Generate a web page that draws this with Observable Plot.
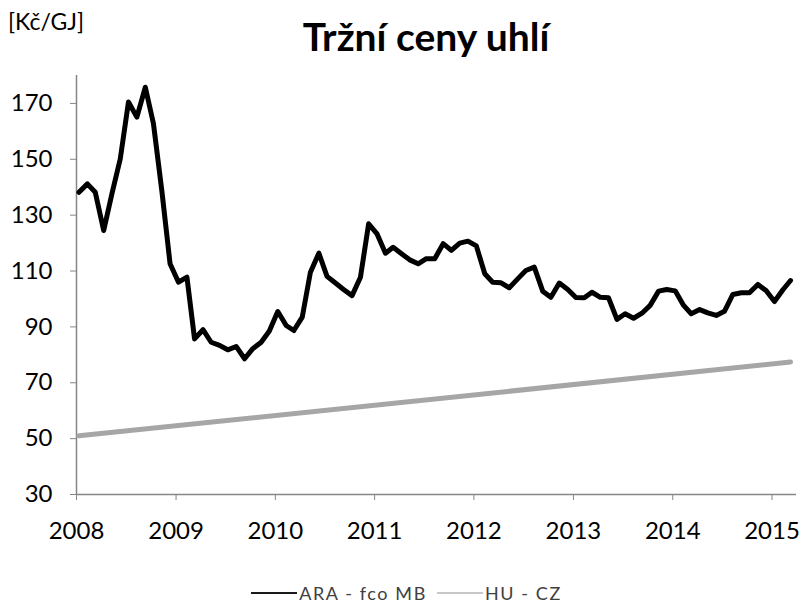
<!DOCTYPE html>
<html><head><meta charset="utf-8">
<script src="https://cdn.jsdelivr.net/npm/d3@7"></script>
<script src="https://cdn.jsdelivr.net/npm/@observablehq/plot@0.6"></script>
<style>
body{margin:0;background:#fff;font-family:Lato,"Open Sans",sans-serif;}
#wrap{position:relative;width:803px;height:603px;overflow:hidden;background:#fff;}
#unit{position:absolute;left:8px;top:7px;font-size:23px;color:#000;}
#title{position:absolute;left:426px;top:15px;transform:translateX(-50%);font-size:39px;font-weight:700;white-space:nowrap;color:#000;line-height:1.1;}
#chart{position:absolute;left:0;top:60px;}
#legend{position:absolute;left:0;width:813px;top:582px;height:22px;display:flex;justify-content:center;align-items:center;font-size:18px;letter-spacing:1.6px;color:#404040;line-height:20px;}
.item{display:flex;align-items:center;margin:0 5px;}
.sw{display:inline-block;width:46px;height:2px;margin-right:2px;}
</style></head>
<body><div id="wrap">
<div id="unit">[Kč/GJ]</div>
<div id="title">Tržní ceny uhlí</div>
<div id="chart"></div>
<div id="legend"></div>
</div>
<script>
// Monthly series, January 2008 – March 2015
const startMonth = "2008-01";
const araValues = [
  138.2, 141.2, 138.2, 124.5, 137.6, 150.2, 170.5, 165.1, 175.8, 162.7, 138.5, 112.6,
  106.0, 107.8, 85.7, 89.0, 84.5, 83.4, 81.8, 83.0, 78.6, 82.2, 84.5, 88.5,
  95.5, 90.5, 88.7, 93.5, 109.6, 116.4, 108.1, 105.7, 103.3, 101.2, 107.8, 126.9,
  123.3, 116.4, 118.5, 116.2, 114.0, 112.6, 114.4, 114.4, 119.8, 117.4, 120.0, 120.7,
  119.0, 109.0, 106.0, 105.8, 104.0, 107.2, 110.2, 111.4, 102.8, 100.6, 105.7, 103.5,
  100.5, 100.4, 102.4, 100.6, 100.4, 92.7, 94.7, 93.1, 94.9, 97.7, 102.8, 103.4,
  102.9, 97.7, 94.7, 96.2, 95.0, 94.1, 95.6, 101.6, 102.2, 102.2, 105.2, 103.0,
  99.1, 103.3, 106.6
];
// HU - CZ: straight line, start and end values
const huMonths = ["2008-01", "2015-03"];
const huValues = [51.0, 77.4];
const yTicks = [30, 50, 70, 90, 110, 130, 150, 170];
const xTickYears = [2008, 2009, 2010, 2011, 2012, 2013, 2014, 2015];
const seriesNames = ["ARA - fco MB", "HU - CZ"];
const seriesColors = ["#000000", "#a6a6a6"];
const legendColors = ["#1a1a1a", "#c8c8c8"];

// observation date within month (~10th)
const parseMonth = s => { const [y, m] = s.split("-").map(Number); return new Date(Date.UTC(y, m - 1, 10)); };
const m0 = parseMonth(startMonth);
const ara = araValues.map((v, i) => ({date: d3.utcMonth.offset(m0, i), value: v}));
const hu = huMonths.map((s, i) => ({date: parseMonth(s), value: huValues[i]}));

const x0 = new Date(Date.UTC(2008, 0, 1));
const x1 = new Date(Date.UTC(2015, 3, 1));
const axisColor = "#868686";

const chart = Plot.plot({
  width: 803,
  height: 500,
  marginLeft: 76,
  marginRight: 7,
  marginTop: 15,
  marginBottom: 66,
  style: {fontFamily: "Lato, 'Open Sans', sans-serif", background: "#fff", color: "#000"},
  x: {type: "utc", domain: [x0, x1]},
  y: {domain: [30, 180]},
  marks: [
    Plot.ruleX([x0], {stroke: axisColor, strokeWidth: 1.5}),
    Plot.ruleY([30], {stroke: axisColor, strokeWidth: 1.5}),
    Plot.axisY({ticks: yTicks, tickSize: 6, tickPadding: 18, stroke: axisColor, fill: "#000", fontSize: 24, label: null}),
    Plot.axisX({ticks: xTickYears.map(y => new Date(Date.UTC(y, 0, 1))), tickFormat: d3.utcFormat("%Y"), tickSize: 6, tickPadding: 21, stroke: axisColor, fill: "#000", fontSize: 24, label: null}),
    Plot.line(hu, {x: "date", y: "value", stroke: seriesColors[1], strokeWidth: 5, strokeLinecap: "round"}),
    Plot.line(ara, {x: "date", y: "value", stroke: seriesColors[0], strokeWidth: 5, strokeLinejoin: "round", strokeLinecap: "round"})
  ]
});
document.getElementById("chart").appendChild(chart);

const legend = document.getElementById("legend");
seriesNames.forEach((name, i) => {
  const it = document.createElement("div");
  it.className = "item";
  const sw = document.createElement("span");
  sw.className = "sw";
  sw.style.background = legendColors[i];
  const t = document.createElement("span");
  t.textContent = name;
  it.appendChild(sw); it.appendChild(t);
  legend.appendChild(it);
});
</script>
</body></html>
